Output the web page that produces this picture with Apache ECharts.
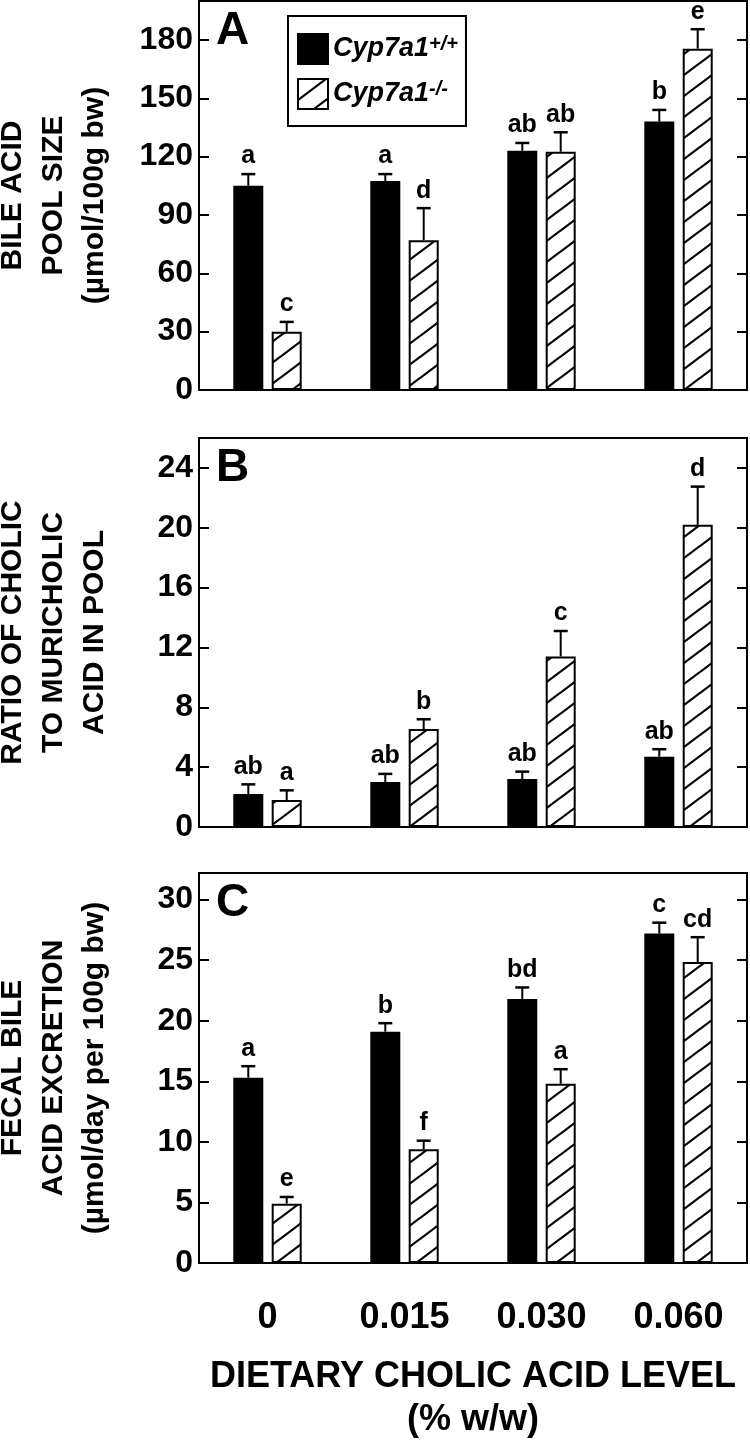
<!DOCTYPE html>
<html>
<head>
<meta charset="utf-8">
<script src="https://cdn.jsdelivr.net/npm/echarts@6/dist/echarts.min.js"></script>
<style>
html,body{margin:0;padding:0;background:#fff;}
#chart{width:750px;height:1441px;}
</style>
</head>
<body>
<div id="chart"></div>
<script>
// ---------- data ----------
const categories = ['0', '0.015', '0.030', '0.060'];
const seriesNames = ['Cyp7a1+/+', 'Cyp7a1-/-'];

const poolWT = [105, 107.5, 123, 138];
const poolWTErr = [6, 3.5, 4, 6];
const poolKO = [30, 77, 122.5, 175.5];
const poolKOErr = [5, 16.5, 10, 10];
const poolWTLetters = ['a', 'a', 'ab', 'b'];
const poolKOLetters = ['c', 'd', 'ab', 'e'];

const ratioWT = [2.2, 3.0, 3.2, 4.7];
const ratioWTErr = [0.65, 0.55, 0.5, 0.5];
const ratioKO = [1.8, 6.55, 11.4, 20.2];
const ratioKOErr = [0.65, 0.65, 1.7, 2.55];
const ratioWTLetters = ['ab', 'ab', 'ab', 'ab'];
const ratioKOLetters = ['a', 'b', 'c', 'd'];

const fecalWT = [15.3, 19.1, 21.8, 27.2];
const fecalWTErr = [0.95, 0.7, 0.95, 0.9];
const fecalKO = [4.9, 9.4, 14.8, 24.85];
const fecalKOErr = [0.55, 0.7, 1.2, 2.05];
const fecalWTLetters = ['a', 'b', 'bd', 'c'];
const fecalKOLetters = ['e', 'f', 'a', 'cd'];

const yMaxes = [200, 26, 32.2];
const yIntervals = [30, 4, 5];
const yTitles = [
  'BILE ACID\nPOOL SIZE\n(\u00b5mol/100g bw)',
  'RATIO OF CHOLIC\nTO MURICHOLIC\nACID IN POOL',
  'FECAL BILE\nACID EXCRETION\n(\u00b5mol/day per 100g bw)'
];
const panelLetters = ['A', 'B', 'C'];
const xTitle = 'DIETARY CHOLIC ACID LEVEL\n(% w/w)';

// ---------- layout ----------
const FONT = 'Liberation Sans, Arial, Helvetica, sans-serif';
const gridTops = [1, 438, 873];
const gridHeights = [389, 389, 390];
const GRID_LEFT = 199, GRID_RIGHT = 3;
const BAR_W = 30, BAR_GAP = 0.28;
const OFFSET = BAR_W * (1 + BAR_GAP) / 2;

function makeHatch() {
  const w = 28, h = 21;
  const c = document.createElement('canvas');
  c.width = w; c.height = h;
  const ctx = c.getContext('2d');
  ctx.fillStyle = '#fff';
  ctx.fillRect(0, 0, w, h);
  ctx.strokeStyle = '#000';
  ctx.lineWidth = 2.2;
  for (const k of [-1, 0, 1]) {
    ctx.beginPath();
    ctx.moveTo(-w, 2 * h + k * h);
    ctx.lineTo(2 * w, -h + k * h);
    ctx.stroke();
  }
  return c;
}
const hatch = { image: makeHatch(), repeat: 'repeat' };

const panels = [
  { wt: poolWT, wtErr: poolWTErr, ko: poolKO, koErr: poolKOErr, wtL: poolWTLetters, koL: poolKOLetters },
  { wt: ratioWT, wtErr: ratioWTErr, ko: ratioKO, koErr: ratioKOErr, wtL: ratioWTLetters, koL: ratioKOLetters },
  { wt: fecalWT, wtErr: fecalWTErr, ko: fecalKO, koErr: fecalKOErr, wtL: fecalWTLetters, koL: fecalKOLetters }
];

const grids = [], xAxes = [], yAxes = [], series = [], graphics = [];
const axisLineStyle = { color: '#000', width: 2 };

panels.forEach((p, i) => {
  grids.push({
    left: GRID_LEFT, right: GRID_RIGHT, top: gridTops[i], height: gridHeights[i],
    containLabel: false, outerBoundsMode: 'none',
    show: true, borderColor: '#000', borderWidth: 2, backgroundColor: 'transparent'
  });
  xAxes.push({
    type: 'category', gridIndex: i, data: categories,
    axisLine: { show: true, lineStyle: axisLineStyle },
    axisTick: { show: false },
    axisLabel: { show: i === 2, fontSize: 36, fontWeight: 'bold', color: '#000', margin: 37, fontFamily: FONT },
    name: i === 2 ? xTitle : '',
    nameLocation: 'middle', nameGap: 93,
    nameTextStyle: { fontSize: 36, fontWeight: 'bold', color: '#000', lineHeight: 43, fontFamily: FONT }
  });
  const common = {
    type: 'value', gridIndex: i, min: 0, max: yMaxes[i], interval: yIntervals[i],
    splitLine: { show: false },
    axisLine: { show: true, lineStyle: axisLineStyle },
    axisTick: { show: true, inside: true, length: 10, lineStyle: axisLineStyle }
  };
  yAxes.push(Object.assign({}, common, {
    position: 'left',
    axisLabel: { show: true, fontSize: 32, fontWeight: 'bold', color: '#000', margin: 6, showMaxLabel: false, fontFamily: FONT },
    name: yTitles[i], nameLocation: 'middle', nameRotate: 90, nameGap: 84,
    nameTextStyle: { fontSize: 30, fontWeight: 'bold', color: '#000', lineHeight: 41, fontFamily: FONT }
  }));
  yAxes.push(Object.assign({}, common, {
    position: 'right',
    axisLabel: { show: false }
  }));

  series.push({
    type: 'bar', name: seriesNames[0], xAxisIndex: i, yAxisIndex: 2 * i,
    data: p.wt, barWidth: BAR_W, barGap: (BAR_GAP * 100) + '%',
    itemStyle: { color: '#000', borderColor: '#000', borderWidth: 2 },
    z: 2
  });
  series.push({
    type: 'bar', name: seriesNames[1], xAxisIndex: i, yAxisIndex: 2 * i,
    data: p.ko, barWidth: BAR_W, barGap: (BAR_GAP * 100) + '%',
    itemStyle: { color: hatch, borderColor: '#000', borderWidth: 2 },
    z: 2
  });

  [[p.wt, p.wtErr, p.wtL, -OFFSET], [p.ko, p.koErr, p.koL, OFFSET]].forEach(([vals, errs, lets, off]) => {
    series.push({
      type: 'custom', xAxisIndex: i, yAxisIndex: 2 * i, z: 5, silent: true,
      data: vals.map((v, k) => [k, v, errs[k]]),
      encode: { x: 0, y: 1 },
      renderItem: function (params, api) {
        const k = api.value(0), v = api.value(1), e = api.value(2);
        const base = api.coord([k, v]);
        const top = api.coord([k, v + e]);
        const x = base[0] + off;
        return {
          type: 'group',
          children: [
            { type: 'line', shape: { x1: x, y1: base[1], x2: x, y2: top[1] }, style: { stroke: '#000', lineWidth: 2 } },
            { type: 'line', shape: { x1: x - 7, y1: top[1], x2: x + 7, y2: top[1] }, style: { stroke: '#000', lineWidth: 2.5 } },
            { type: 'text', style: { text: lets[params.dataIndex], x: x, y: top[1] - 5, textAlign: 'center', textVerticalAlign: 'bottom', font: 'bold 25px ' + FONT, fill: '#000' } }
          ]
        };
      }
    });
  });

  graphics.push({
    type: 'text', left: 216, top: gridTops[i] + 7,
    style: { text: panelLetters[i], font: 'bold 46px ' + FONT, fill: '#000' }
  });
});

const chart = echarts.init(document.getElementById('chart'), null, { renderer: 'canvas' });
chart.setOption({
  animation: false,
  backgroundColor: '#fff',
  textStyle: { fontFamily: FONT },
  grid: grids,
  xAxis: xAxes,
  yAxis: yAxes,
  legend: {
    data: seriesNames,
    orient: 'vertical', left: 288, top: 16,
    icon: 'rect', itemWidth: 30, itemHeight: 30, itemGap: 13,
    padding: [17, 8, 16, 9],
    borderColor: '#000', borderWidth: 2, backgroundColor: '#fff',
    selectedMode: false,
    formatter: function (name) {
      return '{i|' + name.slice(0, 6) + '}{s|' + name.slice(6) + '}';
    },
    textStyle: {
      color: '#000',
      rich: {
        i: { fontSize: 27, fontWeight: 'bold', fontStyle: 'italic', lineHeight: 30, fontFamily: FONT, color: '#000' },
        s: { fontSize: 20, fontWeight: 'bold', fontStyle: 'italic', verticalAlign: 'top', lineHeight: 18, fontFamily: FONT, color: '#000' }
      }
    }
  },
  graphic: graphics,
  series: series
});
</script>
</body>
</html>
